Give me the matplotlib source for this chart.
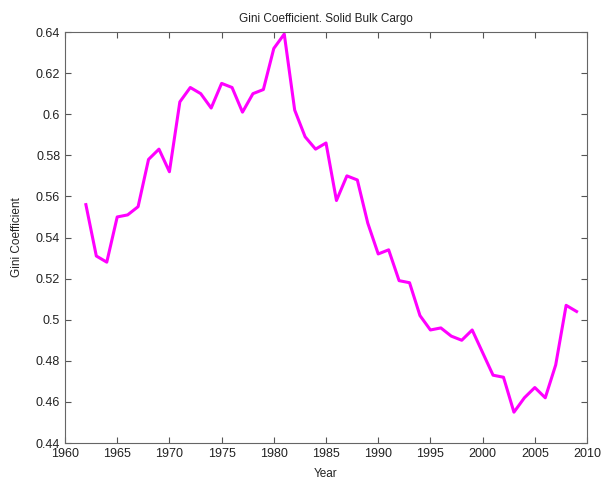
import numpy as np
import matplotlib
matplotlib.use('Agg')
import matplotlib.pyplot as plt

plt.rcParams['font.family'] = ['Liberation Sans', 'DejaVu Sans']

years = list(range(1962, 2010))
gini = [0.556, 0.531, 0.528, 0.550, 0.551, 0.555, 0.578, 0.583, 0.572, 0.606,
        0.613, 0.610, 0.603, 0.615, 0.613, 0.601, 0.610, 0.612, 0.632, 0.639,
        0.602, 0.589, 0.583, 0.586, 0.558, 0.570, 0.568, 0.547, 0.532, 0.534,
        0.519, 0.518, 0.502, 0.495, 0.496, 0.492, 0.490, 0.495, 0.484, 0.473,
        0.472, 0.455, 0.462, 0.467, 0.462, 0.478, 0.507, 0.504]

xticks = np.arange(1960, 2011, 5)
yticks = [0.44, 0.46, 0.48, 0.5, 0.52, 0.54, 0.56, 0.58, 0.6, 0.62, 0.64]
yticklabels = ['0.44', '0.46', '0.48', '0.5', '0.52', '0.54', '0.56', '0.58', '0.6', '0.62', '0.64']

fig = plt.figure(figsize=(6.03, 4.82), dpi=100, facecolor='w')
ax = fig.add_axes([0.1078, 0.0809, 0.8657, 0.8527])
ax.plot(years, gini, color='#ff00ff', linewidth=2.2)

ax.set_xlim(1960, 2010)
ax.set_ylim(0.44, 0.64)
ax.set_xticks(xticks)
ax.set_yticks(yticks)
ax.set_yticklabels(yticklabels)
ax.tick_params(direction='in', length=4, color='#555555', labelsize=9,
               top=True, right=True, labelcolor='#222222')
for s in ax.spines.values():
    s.set_color('#666666')
    s.set_linewidth(0.8)

ax.set_title('Gini Coefficient. Solid Bulk Cargo', fontsize=8.5, color='#222222', pad=7)
ax.set_xlabel('Year', fontsize=8.5, color='#222222', labelpad=6)
ax.set_ylabel('Gini Coefficient', fontsize=8.5, color='#222222', labelpad=9)

fig.savefig('out.png', dpi=100)
